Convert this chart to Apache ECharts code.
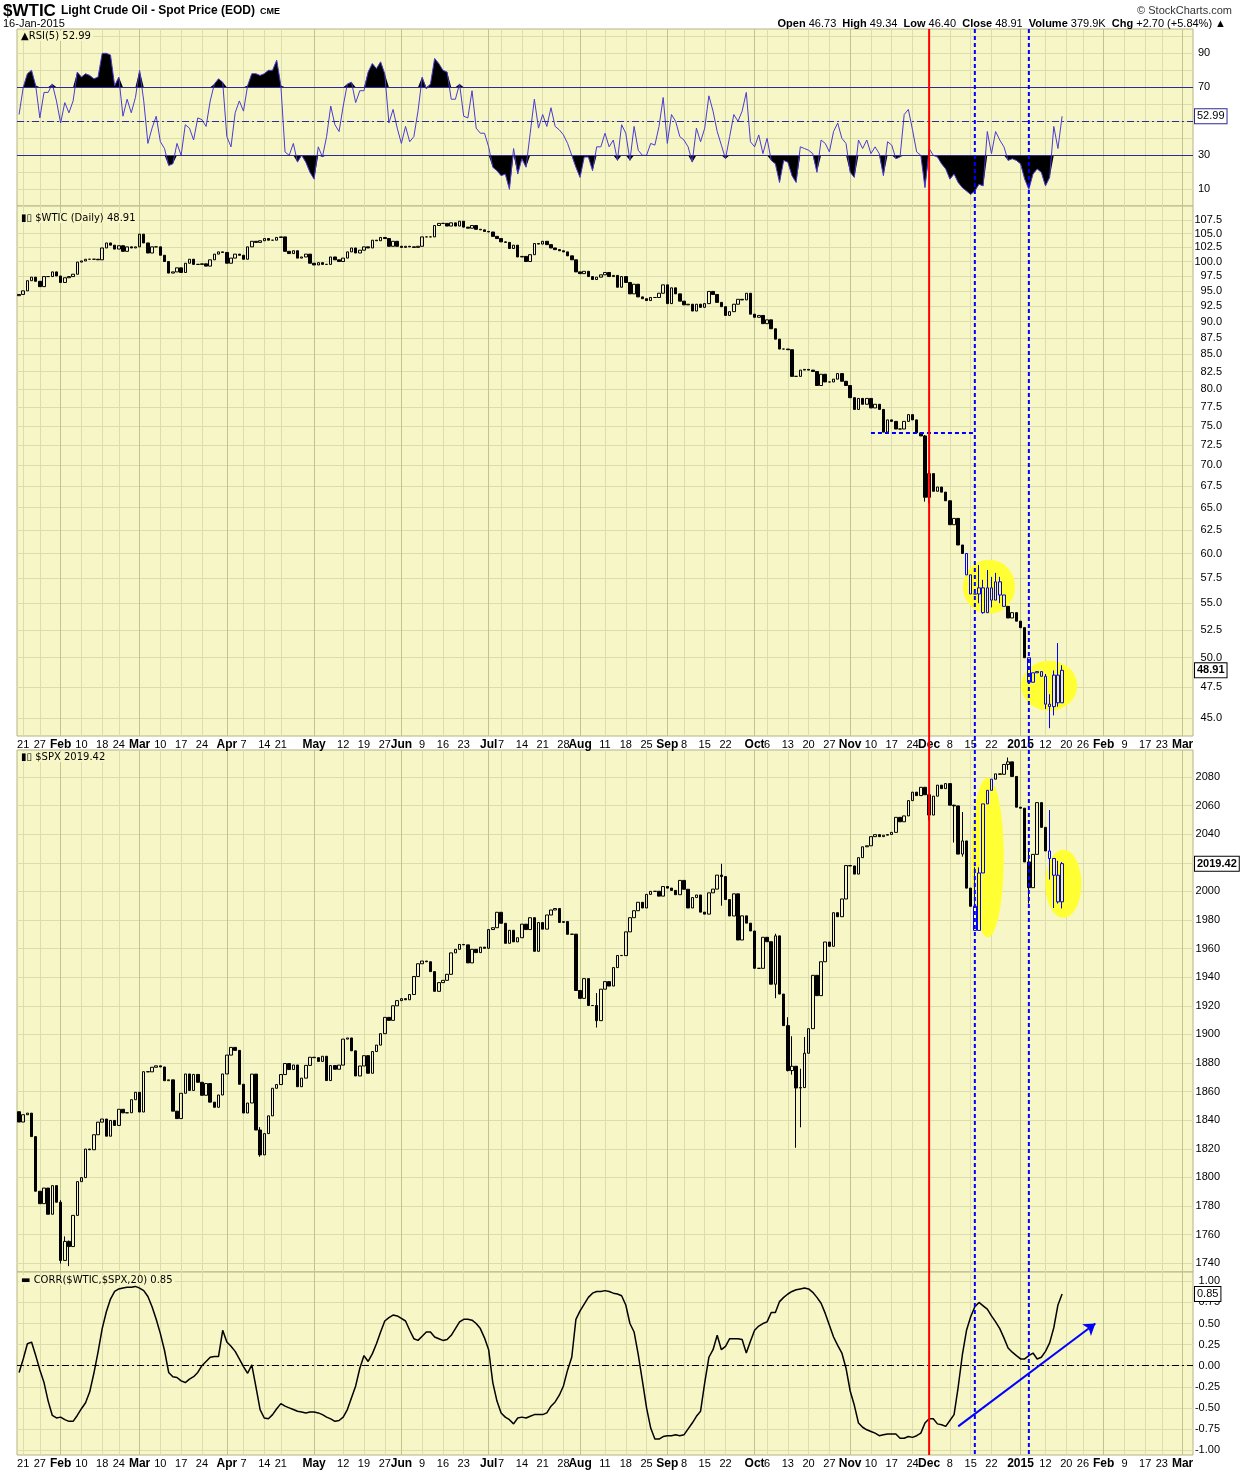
<!DOCTYPE html>
<html>
<head>
<meta charset="utf-8">
<script src="https://cdn.jsdelivr.net/npm/echarts@6/dist/echarts.min.js"></script>
<style>
html, body { margin: 0; padding: 0; background: #fff; }
#chart { width: 1240px; height: 1474px; }
</style>
</head>
<body>
<div id="chart"></div>
<script>
// ---- axis: trading days, data runs to 2015-01-16, axis runs on into March ----
const holidays = ['2014-01-20', '2014-02-17', '2014-04-18', '2014-05-26', '2014-07-04', '2014-09-01',
  '2014-11-27', '2014-12-25', '2015-01-01', '2015-01-19', '2015-02-16'];
const days = [];
for (let t = Date.UTC(2014, 0, 17); t <= Date.UTC(2015, 2, 4); t += 864e5) {
  const d = new Date(t);
  const s = d.toISOString().slice(0, 10);
  if (d.getUTCDay() === 0 || d.getUTCDay() === 6 || holidays.includes(s)) continue;
  days.push(s);
}

const tickDates = ['2014-01-21', '2014-01-27', '2014-02-03', '2014-02-10', '2014-02-18', '2014-02-24',
  '2014-03-03', '2014-03-10', '2014-03-17', '2014-03-24', '2014-04-01', '2014-04-07', '2014-04-14',
  '2014-04-21', '2014-05-01', '2014-05-12', '2014-05-19', '2014-05-27', '2014-06-02', '2014-06-09',
  '2014-06-16', '2014-06-23', '2014-07-01', '2014-07-07', '2014-07-14', '2014-07-21', '2014-07-28',
  '2014-08-01', '2014-08-11', '2014-08-18', '2014-08-25', '2014-09-02', '2014-09-08', '2014-09-15',
  '2014-09-22', '2014-10-01', '2014-10-06', '2014-10-13', '2014-10-20', '2014-10-27', '2014-11-03',
  '2014-11-10', '2014-11-17', '2014-11-24', '2014-12-01', '2014-12-08', '2014-12-15', '2014-12-22',
  '2015-01-02', '2015-01-12', '2015-01-20', '2015-01-26', '2015-02-02', '2015-02-09', '2015-02-17',
  '2015-02-23', '2015-03-02'];

const rsiTicks = [10, 20, 30, 40, 50, 60, 70, 80, 90, 100];
const rsiLabels = [10, 30, 50, 70, 90];
const wticTicks = [45, 47.5, 50, 52.5, 55, 57.5, 60, 62.5, 65, 67.5, 70, 72.5, 75, 77.5, 80, 82.5, 85,
  87.5, 90, 92.5, 95, 97.5, 100, 102.5, 105, 107.5];
const spxTicks = [1740, 1760, 1780, 1800, 1820, 1840, 1860, 1880, 1900, 1920, 1940, 1960, 1980, 2000,
  2020, 2040, 2060, 2080];
const corrTicks = [-1, -0.75, -0.5, -0.25, 0, 0.25, 0.5, 0.75, 1];

// ---- $WTIC daily closes ----
const wticClose = [
  94.4, 95.0, 96.7, 97.3, 96.6, 95.7, 97.4, 97.4, 98.2, 97.5,
  96.4, 97.2, 97.4, 97.8, 99.9, 100.1, 100.4, 100.4, 100.4, 100.3, 102.4, 103.3, 102.9, 102.2, 102.8, 101.8, 102.6, 102.4, 102.6,
  104.9, 103.3, 101.5, 102.6, 102.6, 101.1, 100.0, 98.0, 98.2, 98.9, 98.1, 99.7, 100.4, 99.5, 99.5, 99.6, 99.2, 100.3, 101.3, 101.7, 101.6,
  99.7, 100.6, 101.3, 101.1, 100.4, 102.6, 103.6, 103.4, 103.7, 104.1, 103.8, 103.8, 104.3, 104.4, 101.8, 101.4, 101.9, 100.6, 100.8, 101.3, 99.7,
  99.4, 99.8, 99.5, 99.5, 100.8, 100.3, 100.0, 100.6, 101.7, 102.4, 101.5, 102.0, 102.6, 102.4, 103.8, 103.7, 104.3, 104.1, 102.7, 103.6, 102.7,
  102.5, 102.7, 102.6, 102.5, 102.7, 104.4, 104.4, 104.4, 106.5, 106.9, 106.9, 106.4, 107.0, 106.4, 107.3, 106.2, 106.0, 106.5, 105.8, 105.7, 105.4,
  105.3, 104.5, 104.1, 103.5, 103.4, 102.3, 102.9, 100.8, 100.9, 100.0, 101.2, 103.2, 103.1, 103.6, 103.0, 102.4, 102.1, 101.9, 101.7, 101.0, 100.3, 98.2,
  97.9, 98.3, 97.4, 96.9, 97.3, 97.7, 98.1, 97.4, 97.6, 95.6, 97.4, 96.4, 94.5, 96.1, 94.0, 93.7, 93.4, 93.9, 93.9, 94.6, 96.0,
  92.9, 95.5, 94.5, 93.3, 92.7, 92.8, 91.7, 92.8, 92.3, 92.9, 94.9, 94.4, 93.1, 92.4, 91.0, 91.6, 92.8, 93.6, 93.5, 94.6, 91.2,
  90.7, 91.0, 89.7, 90.3, 88.9, 87.3, 85.8, 85.8, 85.7, 81.8, 81.8, 82.7, 82.8, 82.7, 82.5, 80.5, 82.1, 81.0, 81.0, 81.4, 82.2, 81.1, 80.5,
  78.8, 77.2, 78.7, 77.9, 78.7, 77.4, 77.9, 77.2, 74.2, 75.8, 75.6, 74.6, 74.6, 75.6, 76.5, 75.8, 74.1, 73.7, 66.2,
  69.0, 66.9, 67.4, 66.8, 65.8, 63.1, 63.8, 60.9, 60.0, 57.8, 55.9, 55.9, 56.5, 54.1, 56.5, 55.3, 57.1, 55.8, 54.7, 53.6, 54.1, 53.3,
  52.7, 50.0, 47.9, 48.7, 48.8, 48.4, 46.1, 45.9, 48.5, 46.21, 48.91
];
const wticFirstOpen = 94.2;
// [day index, low, high] where the wick reaches past the body
const wticWicks = [[218, 65.7, 73.8], [219, 65.5, 69.4], [231, 55.0, 58.8], [232, 54.0, 57.3],
  [233, 54.3, 58.3], [234, 54.6, 57.6], [235, 55.3, 58.0], [236, 55.0, 57.6], [247, 45.7, 48.6],
  [248, 44.2, 46.9], [249, 45.2, 48.9], [250, 45.9, 51.3], [251, 46.4, 49.34]];
const wticBlue = [[228, 237], [243, 251]];

// ---- $SPX daily closes ----
const spxClose = [
  1838.7, 1843.8, 1844.9, 1828.5, 1790.3, 1781.6, 1792.5, 1774.2, 1794.2, 1782.6,
  1741.9, 1755.2, 1751.6, 1773.4, 1797.0, 1799.8, 1819.8, 1819.3, 1829.8, 1838.6, 1840.8, 1828.8, 1839.8, 1836.3, 1847.6, 1845.1, 1845.2, 1854.3, 1859.5,
  1845.7, 1873.9, 1873.8, 1877.0, 1878.0, 1877.2, 1867.6, 1868.2, 1846.3, 1841.1, 1858.8, 1872.3, 1860.8, 1872.0, 1866.5, 1857.4, 1865.6, 1852.6, 1849.0, 1857.6, 1872.3,
  1885.5, 1890.9, 1888.8, 1865.1, 1845.0, 1852.0, 1872.2, 1833.1, 1815.7, 1830.6, 1843.0, 1862.3, 1864.9, 1871.9, 1879.6, 1875.4, 1878.6, 1863.4, 1869.4, 1878.3, 1884.0,
  1883.7, 1881.1, 1884.7, 1867.7, 1878.2, 1875.6, 1878.5, 1896.7, 1897.5, 1888.5, 1870.9, 1877.9, 1885.1, 1872.8, 1888.0, 1892.5, 1900.5, 1911.9, 1909.8, 1920.0, 1923.6,
  1925.0, 1924.2, 1927.9, 1940.5, 1949.4, 1951.3, 1950.8, 1943.9, 1930.1, 1936.2, 1937.8, 1942.0, 1957.0, 1959.5, 1962.9, 1962.6, 1950.0, 1959.5, 1957.2, 1961.0, 1960.2,
  1973.3, 1974.6, 1985.4, 1977.7, 1963.7, 1972.8, 1964.7, 1967.6, 1977.1, 1973.3, 1981.6, 1958.1, 1978.2, 1973.6, 1983.5, 1987.0, 1988.0, 1978.3, 1978.9, 1970.0, 1970.1, 1930.7,
  1925.2, 1939.0, 1920.2, 1920.2, 1909.6, 1931.6, 1936.9, 1933.8, 1946.7, 1955.2, 1955.1, 1971.7, 1981.6, 1986.5, 1992.4, 1988.4, 1997.9, 2000.0, 2000.1, 1996.7, 2003.4,
  2002.3, 2000.7, 1997.7, 2007.7, 2001.5, 1988.4, 1995.7, 1997.5, 1985.5, 1984.1, 1999.0, 2001.6, 2011.4, 2010.4, 1994.3, 1982.8, 1998.3, 1966.0, 1982.9, 1977.8, 1972.3,
  1946.2, 1946.2, 1967.9, 1964.8, 1935.1, 1968.9, 1928.2, 1906.1, 1874.7, 1877.7, 1862.5, 1862.8, 1886.8, 1904.0, 1941.3, 1927.1, 1950.8, 1964.6, 1961.6, 1985.1, 1982.3, 1994.7, 2018.1,
  2017.8, 2012.1, 2023.6, 2031.2, 2031.9, 2038.3, 2039.7, 2038.3, 2039.3, 2039.8, 2041.3, 2051.8, 2048.7, 2052.8, 2063.5, 2069.4, 2067.0, 2072.8, 2067.6,
  2053.4, 2066.6, 2074.3, 2071.9, 2075.4, 2060.3, 2059.8, 2026.1, 2035.3, 2002.3, 1989.6, 1972.7, 2012.9, 2061.2, 2070.7, 2078.5, 2082.2, 2081.9, 2088.8, 2090.6, 2080.4, 2058.9,
  2058.2, 2020.6, 2002.6, 2025.9, 2062.1, 2044.8, 2028.3, 2023.0, 2011.3, 1992.7, 2019.42
];
const spxFirstOpen = 1845.9;
const spxWicks = [[10, 1739.7, 1784.0], [11, 1744.0, 1758.7], [12, 1737.9, 1755.8], [58, 1814.4, 1835.1],
  [139, 1904.8, 1928.9], [169, 1990.0, 2019.3], [182, 1925.3, 1970.4], [185, 1874.1, 1912.0],
  [186, 1871.8, 1898.7], [187, 1820.7, 1874.2], [188, 1835.0, 1876.0], [189, 1864.9, 1898.2],
  [219, 2049.6, 2067.6], [225, 2034.2, 2060.6], [227, 2024.3, 2055.5], [228, 2002.1, 2032.0],
  [230, 1972.6, 2016.9], [231, 1973.7, 2016.8], [238, 2085.0, 2093.6], [243, 1991.5, 2030.3],
  [248, 2008.3, 2056.9], [249, 1988.4, 2018.4], [250, 1991.5, 2021.4], [251, 1988.1, 2020.5]];
const spxBlue = [[230, 234], [248, 251]];

// ---- RSI(5) of $WTIC ----
const rsi = [
  54, 70, 78, 80, 71, 52, 67, 67, 72, 62,
  49, 61, 55, 62, 79, 76, 78, 77, 75, 76,
  90, 90, 89, 71, 76, 53, 63, 55, 64, 80,
  62, 37, 46, 53, 38, 34, 24, 25, 37, 30,
  48, 46, 39, 52, 51, 47, 62, 72, 75, 73,
  41, 35, 55, 62, 56, 71, 78, 78, 77, 78,
  80, 80, 86, 71, 32, 30, 37, 26, 30, 26,
  20, 16, 35, 29, 41, 59, 48, 44, 59, 72,
  73, 61, 68, 68, 79, 84, 81, 85, 78, 49,
  57, 46, 37, 47, 38, 41, 56, 76, 69, 72,
  87, 84, 80, 79, 63, 63, 72, 53, 52, 68,
  46, 43, 43, 35, 23, 21, 18, 19, 10, 34,
  19, 28, 23, 43, 63, 46, 54, 47, 58, 47,
  45, 42, 37, 30, 23, 17, 29, 29, 21, 35,
  35, 43, 35, 39, 27, 48, 43, 27, 47, 33,
  30, 30, 37, 36, 47, 64, 37, 54, 50, 41,
  39, 35, 26, 46, 38, 46, 65, 56, 44, 36,
  28, 41, 54, 50, 56, 67, 38, 35, 42, 31,
  40, 27, 25, 14, 27, 26, 18, 14, 35, 34,
  33, 31, 20, 39, 37, 32, 44, 49, 40, 37,
  20, 17, 39, 34, 39, 31, 35, 31, 18, 38,
  36, 28, 29, 54, 57, 45, 32, 30, 11, 34,
  30, 29, 25, 22, 16, 19, 14, 11, 9, 7,
  9, 13, 12, 44, 31, 44, 39, 35, 27, 28,
  27, 25, 16, 10, 19, 22, 20, 12, 17, 47,
  34, 52.99
];

// ---- CORR($WTIC,$SPX,20) ----
const corr = [
  -0.08, 0.08, 0.26, 0.28, 0.12, -0.05, -0.20, -0.42, -0.59, -0.62,
  -0.61, -0.64, -0.66, -0.66, -0.59, -0.51, -0.44, -0.31, -0.09, 0.16,
  0.44, 0.64, 0.79, 0.88, 0.91, 0.92, 0.93, 0.93, 0.94, 0.92,
  0.89, 0.82, 0.70, 0.55, 0.38, 0.18, -0.08, -0.13, -0.14, -0.18,
  -0.20, -0.16, -0.13, -0.08, 0.00, 0.05, 0.10, 0.11, 0.11, 0.42,
  0.28, 0.23, 0.17, 0.08, -0.01, -0.09, 0.01, -0.25, -0.52, -0.62,
  -0.63, -0.58, -0.51, -0.45, -0.48, -0.50, -0.52, -0.54, -0.55, -0.56,
  -0.55, -0.55, -0.56, -0.58, -0.61, -0.63, -0.66, -0.65, -0.61, -0.52,
  -0.38, -0.24, -0.03, 0.12, 0.05, 0.14, 0.26, 0.40, 0.53, 0.57,
  0.60, 0.59, 0.56, 0.53, 0.42, 0.32, 0.30, 0.35, 0.40, 0.40,
  0.34, 0.32, 0.30, 0.31, 0.36, 0.44, 0.52, 0.55, 0.55, 0.54,
  0.50, 0.44, 0.33, 0.19, -0.20, -0.42, -0.56, -0.61, -0.64, -0.69,
  -0.62, -0.61, -0.62, -0.60, -0.58, -0.58, -0.58, -0.56, -0.48, -0.43,
  -0.35, -0.24, -0.05, 0.10, 0.55, 0.65, 0.73, 0.81, 0.86, 0.88,
  0.88, 0.89, 0.88, 0.86, 0.85, 0.83, 0.72, 0.50, 0.40, 0.13,
  -0.18, -0.50, -0.74, -0.87, -0.87, -0.84, -0.83, -0.83, -0.82, -0.83,
  -0.82, -0.75, -0.68, -0.60, -0.54, -0.20, 0.10, 0.19, 0.36, 0.19,
  0.23, 0.32, 0.32, 0.32, 0.31, 0.15, 0.29, 0.42, 0.47, 0.50,
  0.52, 0.63, 0.63, 0.76, 0.81, 0.85, 0.88, 0.90, 0.91, 0.92,
  0.91, 0.87, 0.81, 0.74, 0.62, 0.48, 0.34, 0.24, 0.15, -0.03,
  -0.30, -0.47, -0.68, -0.73, -0.76, -0.78, -0.80, -0.83, -0.82, -0.81,
  -0.81, -0.81, -0.86, -0.86, -0.84, -0.85, -0.83, -0.80, -0.68, -0.63,
  -0.63, -0.69, -0.70, -0.72, -0.65, -0.58, -0.25, 0.13, 0.42, 0.58,
  0.70, 0.75, 0.71, 0.67, 0.59, 0.52, 0.44, 0.33, 0.21, 0.16,
  0.12, 0.08, 0.08, 0.12, 0.15, 0.08, 0.10, 0.17, 0.27, 0.45,
  0.72, 0.85
];

// marker days: red line, blue dashed lines
const redDay = '2014-12-01';
const blueDays = ['2014-12-16', '2015-01-06'];
const supportLevel = 74.1;
const supportFrom = '2014-11-10';
const arrowFrom = ['2014-12-10', -0.72];
const arrowTo = ['2015-01-29', 0.50];

// ---------------------------------------------------------------
const BG = '#f7f6c6';
const GRID_LIGHT = '#dcdcad';
const GRID_MONTH = '#bfc58c';
const FONT = 'Liberation Sans, Arial, sans-serif';
const MONTHS = ['Jan', 'Feb', 'Mar', 'Apr', 'May', 'Jun', 'Jul', 'Aug', 'Sep', 'Oct', 'Nov', 'Dec'];

const tickSet = new Set(tickDates);
const isMonthStart = d => {
  const i = days.indexOf(d);
  return i > 0 && days[i - 1].slice(5, 7) !== d.slice(5, 7);
};
const tickText = d => {
  if (isMonthStart(d)) {
    const m = +d.slice(5, 7);
    return '{m|' + (m === 1 ? d.slice(0, 4) : MONTHS[m - 1]) + '}';
  }
  return String(+d.slice(8));
};
const vColors = tickDates.map(d => isMonthStart(d) ? GRID_MONTH : GRID_LIGHT);

function inRanges(i, ranges) {
  return ranges.some(r => i >= r[0] && i <= r[1]);
}
function candles(closes, firstOpen, wicks, blue) {
  return closes.map((c, i) => {
    const o = i === 0 ? firstOpen : closes[i - 1];
    let lo = Math.min(o, c), hi = Math.max(o, c);
    const w = wicks.find(x => x[0] === i);
    if (w) { lo = Math.min(lo, w[1]); hi = Math.max(hi, w[2]); }
    const item = { value: [o, c, lo, hi] };
    if (inRanges(i, blue)) {
      item.itemStyle = { color: 'transparent', color0: '#0000ff', borderColor: '#0000ff', borderColor0: '#0000ff' };
    }
    return item;
  });
}

const grids = [
  { left: 17, right: 47, top: 29, height: 177 },
  { left: 17, right: 47, top: 206, height: 530 },
  { left: 17, right: 47, top: 750, height: 522 },
  { left: 17, right: 47, top: 1272, height: 183 }
].map(g => Object.assign(g, { show: true, backgroundColor: BG, borderColor: '#b4b487', borderWidth: 1 }));

function makeX(gridIndex, labels) {
  return {
    type: 'category', gridIndex, data: days, boundaryGap: true,
    axisLine: { show: false }, axisTick: { show: false },
    axisLabel: {
      show: labels, interval: (i, v) => tickSet.has(v), formatter: tickText, margin: 3,
      fontSize: 11, fontFamily: FONT, color: '#000',
      rich: { m: { fontSize: 12, fontWeight: 'bold', fontFamily: FONT, color: '#000' } }
    },
    splitLine: {
      show: true, interval: (i, v) => tickSet.has(v), alignWithLabel: true,
      lineStyle: { color: vColors, width: 1 }
    }
  };
}
function makeY(gridIndex, type, min, max, ticks, labels, fmt, align, margin) {
  return {
    type, gridIndex, position: 'right', min, max,
    axisLine: { show: false },
    axisTick: { show: false, customValues: ticks },
    axisLabel: { customValues: labels, formatter: fmt, align, margin, fontSize: 11, fontFamily: FONT, color: '#000' },
    splitLine: { show: true, lineStyle: { color: GRID_LIGHT, width: 1 } }
  };
}
// value box on the right axis, like the last-value tags
function tag(value, text, border, bold) {
  return {
    yAxis: value, lineStyle: { color: 'rgba(0,0,0,0)', width: 0 },
    label: {
      show: true, position: 'end', distance: 2, formatter: text, color: '#000', opacity: 1,
      fontSize: 11, fontFamily: FONT, fontWeight: bold ? 'bold' : 'normal',
      backgroundColor: '#fff', borderColor: border, borderWidth: 1, padding: [2, 2, 1, 2]
    }
  };
}
const candleStyle = { color: 'transparent', color0: '#000', borderColor: '#000', borderColor0: '#000', borderWidth: 1 };
const hidden = { opacity: 0 };

const titleStyle = { fontSize: 10, fontFamily: 'DejaVu Sans, sans-serif', fontWeight: 'normal', color: '#000' };
const option = {
  animation: false,
  backgroundColor: '#fff',
  title: [
    { text: '{a|$WTIC} {b|Light Crude Oil - Spot Price (EOD)} {c|CME}', left: 3, top: 2, padding: 0,
      textStyle: { rich: {
        a: { fontSize: 17, fontWeight: 'bold', fontFamily: FONT, color: '#000' },
        b: { fontSize: 12, fontFamily: FONT, color: '#000' },
        c: { fontSize: 9, fontFamily: FONT, color: '#000', padding: [2, 0, 0, 0] } } } },
    { text: '16-Jan-2015', left: 3, top: 18, padding: 0,
      textStyle: { fontSize: 11, fontWeight: 'normal', fontFamily: FONT, color: '#000' } },
    { text: '© StockCharts.com', right: 8, top: 5, padding: 0,
      textStyle: { fontSize: 11, fontWeight: 'normal', fontFamily: FONT, color: '#333' } },
    { text: '{b|Open} 46.73  {b|High} 49.34  {b|Low} 46.40  {b|Close} 48.91  {b|Volume} 379.9K  {b|Chg} +2.70 (+5.84%) ▲',
      right: 14, top: 18, padding: 0,
      textStyle: { fontSize: 11, fontWeight: 'normal', fontFamily: FONT, color: '#000',
        rich: { b: { fontSize: 11, fontWeight: 'bold', fontFamily: FONT, color: '#000' } } } },
    { text: '▲RSI(5) 52.99', left: 19, top: 31, padding: [0, 2], backgroundColor: BG, textStyle: titleStyle },
    { text: '▮▯ $WTIC (Daily) 48.91', left: 19, top: 213, padding: [0, 2], backgroundColor: BG, textStyle: titleStyle },
    { text: '▮▯ $SPX 2019.42', left: 19, top: 752, padding: [0, 2], backgroundColor: BG, textStyle: titleStyle },
    { text: '▬ CORR($WTIC,$SPX,20) 0.85', left: 19, top: 1275, padding: [0, 2], backgroundColor: BG, textStyle: titleStyle }
  ],
  grid: grids,
  xAxis: [makeX(0, false), makeX(1, true), makeX(2, false), makeX(3, true)],
  yAxis: [
    makeY(0, 'value', 0.2, 104.3, rsiTicks, rsiLabels, v => String(v), 'left', 5),
    makeY(1, 'log', 43.6, 110.2, wticTicks, wticTicks, v => v.toFixed(1), 'right', 29),
    makeY(2, 'value', 1733.8, 2098.9, spxTicks, spxTicks, v => String(v), 'right', 27),
    makeY(3, 'value', -1.059, 1.111, corrTicks, corrTicks, v => v.toFixed(2), 'right', 27)
  ],
  series: [
    { type: 'line', xAxisIndex: 0, yAxisIndex: 0, stack: 'hi', symbol: 'none', silent: true,
      lineStyle: hidden, data: rsi.map(() => 70) },
    { type: 'line', xAxisIndex: 0, yAxisIndex: 0, stack: 'hi', symbol: 'none', silent: true,
      lineStyle: hidden, areaStyle: { color: '#000', opacity: 1 }, data: rsi.map(v => Math.max(v - 70, 0)) },
    { type: 'line', xAxisIndex: 0, yAxisIndex: 0, stack: 'lo', symbol: 'none', silent: true,
      lineStyle: hidden, data: rsi.map(v => Math.min(v, 30)) },
    { type: 'line', xAxisIndex: 0, yAxisIndex: 0, stack: 'lo', symbol: 'none', silent: true,
      lineStyle: hidden, areaStyle: { color: '#000', opacity: 1 }, data: rsi.map(v => 30 - Math.min(v, 30)) },
    { name: 'RSI', type: 'line', xAxisIndex: 0, yAxisIndex: 0, symbol: 'none', z: 4,
      lineStyle: { color: '#4a3bd4', width: 1 }, data: rsi,
      markLine: { silent: true, symbol: ['none', 'none'], label: { show: false },
        data: [
          { yAxis: 70, lineStyle: { color: '#2e2a98', width: 1.2, type: 'solid' } },
          { yAxis: 30, lineStyle: { color: '#2e2a98', width: 1.2, type: 'solid' } },
          { yAxis: 50, lineStyle: { color: '#2e2a98', width: 1, type: [7, 3, 2, 3] } },
          tag(52.99, '52.99', '#2e2a98', false)
        ] } },
    { name: '$WTIC', type: 'candlestick', xAxisIndex: 1, yAxisIndex: 1, barWidth: 3,
      itemStyle: candleStyle, data: candles(wticClose, wticFirstOpen, wticWicks, wticBlue),
      markLine: { silent: true, symbol: ['none', 'none'], label: { show: false },
        data: [
          [{ coord: [supportFrom, supportLevel], lineStyle: { color: '#0000ff', width: 2, type: [4, 3] } },
           { coord: [blueDays[0], supportLevel] }],
          tag(48.91, '48.91', '#000', true)
        ] } },
    { name: '$SPX', type: 'candlestick', xAxisIndex: 2, yAxisIndex: 2, barWidth: 3,
      itemStyle: candleStyle, data: candles(spxClose, spxFirstOpen, spxWicks, spxBlue),
      markLine: { silent: true, symbol: ['none', 'none'], label: { show: false },
        data: [tag(2019.42, '2019.42', '#000', true)] } },
    { name: 'CORR', type: 'line', xAxisIndex: 3, yAxisIndex: 3, symbol: 'none',
      lineStyle: { color: '#000', width: 1.5 }, data: corr,
      markLine: { silent: true, symbol: ['none', 'none'], label: { show: false },
        data: [
          { yAxis: 0, lineStyle: { color: '#000', width: 1, type: [7, 3, 2, 3] } },
          tag(0.85, '0.85', '#000', false),
          [{ coord: arrowFrom, symbol: 'none', lineStyle: { color: '#0000ff', width: 2, type: 'solid' } },
           { coord: arrowTo, symbol: 'arrow', symbolSize: 11 }]
        ] } }
  ]
};

const chart = echarts.init(document.getElementById('chart'), null, { renderer: 'canvas' });
chart.setOption(option);

// ---- annotations placed through the axes ----
function dayX(axis, pos) {
  const i = Math.floor(pos);
  const x0 = chart.convertToPixel({ xAxisIndex: axis }, days[i]);
  const x1 = chart.convertToPixel({ xAxisIndex: axis }, days[i + 1]);
  return x0 + (x1 - x0) * (pos - i);
}
// [axis index, day position, value, x radius px, y radius px]
const rings = [
  [1, 233.4, 56.6, 26, 27], [1, 247.9, 47.6, 28, 25],
  [2, 233.1, 2023.7, 16, 80], [2, 251.3, 2005.4, 18, 34]
];
const panelTop = grids[0].top;
const panelBottom = grids[3].top + grids[3].height;
const graphics = rings.map(r => ({
  type: 'ellipse', silent: true, z: 1,
  shape: { cx: dayX(r[0], r[1]), cy: chart.convertToPixel({ yAxisIndex: r[0] }, r[2]), rx: r[3], ry: r[4] },
  style: { fill: '#ffff33' }
}));
const redX = chart.convertToPixel({ xAxisIndex: 0 }, redDay);
graphics.push({ type: 'line', silent: true, z: 100, shape: { x1: redX, y1: panelTop, x2: redX, y2: panelBottom },
  style: { stroke: '#ff0000', lineWidth: 2 } });
blueDays.forEach(d => {
  const bx = chart.convertToPixel({ xAxisIndex: 0 }, d);
  graphics.push({ type: 'line', silent: true, z: 100, shape: { x1: bx, y1: panelTop, x2: bx, y2: panelBottom },
    style: { stroke: '#0000ff', lineWidth: 2, lineDash: [4, 3] } });
});
chart.setOption({ graphic: graphics });
</script>
</body>
</html>
